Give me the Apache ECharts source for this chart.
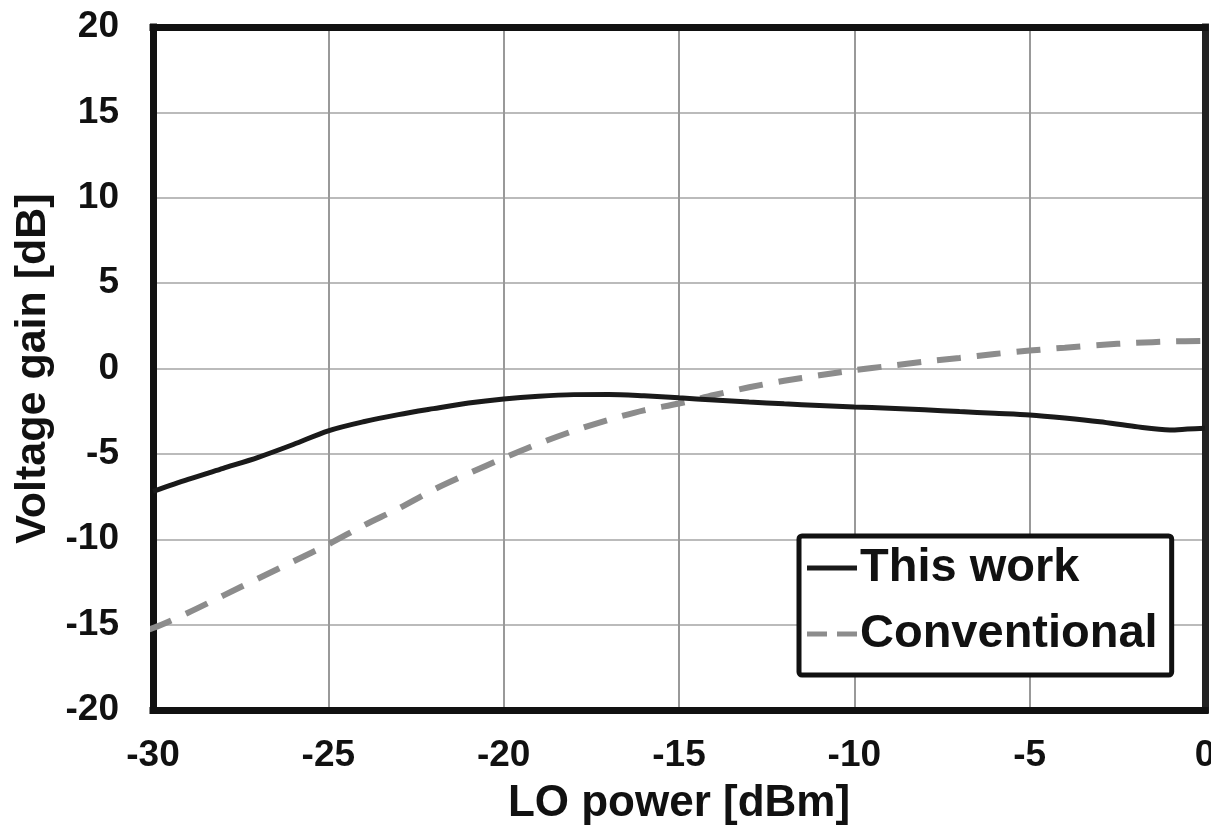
<!DOCTYPE html>
<html>
<head>
<meta charset="utf-8">
<script src="https://cdn.jsdelivr.net/npm/echarts@6/dist/echarts.min.js"></script>
<style>
  html, body { margin: 0; padding: 0; background: #fff; }
  #main { width: 1211px; height: 830px; }
</style>
</head>
<body>
<div id="main"></div>
<script>
// LO power [dBm] vs voltage gain [dB]
var powerThis = [-30, -29, -28, -27, -26, -25, -24, -23, -22, -21, -20, -19, -18, -17, -16, -15, -14, -13, -12, -11, -10, -9, -8, -7, -6, -5, -4, -3, -2, -1, -0.5, 0];
var gainThis = [-7.2, -6.5, -5.85, -5.2, -4.45, -3.65, -3.12, -2.7, -2.35, -2.02, -1.78, -1.62, -1.53, -1.52, -1.6, -1.72, -1.84, -1.96, -2.07, -2.16, -2.25, -2.33, -2.42, -2.52, -2.62, -2.72, -2.9, -3.12, -3.4, -3.6, -3.55, -3.5];

var powerConv = [-31.2, -30, -29, -28, -27, -26, -25, -24, -23, -22, -21, -20, -19, -18, -17, -16, -15, -14, -13, -12, -11, -10, -9, -8, -7, -6, -5, -4, -3, -2, -1, 0];
var gainConv = [-16.0, -15.2, -14.3, -13.3, -12.3, -11.3, -10.3, -9.2, -8.2, -7.1, -6.15, -5.25, -4.4, -3.65, -3.0, -2.45, -2.05, -1.55, -1.1, -0.72, -0.4, -0.1, 0.15, 0.4, 0.62, 0.85, 1.05, 1.22, 1.38, 1.5, 1.58, 1.62];

var seriesNames = ['This work', 'Conventional'];

function pairs(xs, ys) {
  var out = [];
  for (var i = 0; i < xs.length; i++) {
    out.push([xs[i], ys[i]]);
  }
  return out;
}

var chart = echarts.init(document.getElementById('main'));
var font = 'Liberation Sans, Arial, sans-serif';
var frame = { show: true, onZero: false, lineStyle: { color: '#111', width: 7, cap: 'square' } };

var option = {
  animation: false,
  backgroundColor: '#fff',
  grid: { left: 153, top: 27, width: 1052, height: 683, outerBoundsMode: 'none', containLabel: false },
  legend: {
    data: [
      { name: seriesNames[0], icon: 'rect' },
      { name: seriesNames[1], icon: 'path://M0,0h20v5h-20z M30,0h20v5h-20z' }
    ],
    orient: 'vertical',
    left: 799,
    top: 536,
    padding: [3, 14, 12, 8],
    itemGap: 8,
    itemWidth: 50,
    itemHeight: 5,
    borderColor: '#111',
    borderWidth: 5,
    borderRadius: 3,
    backgroundColor: '#fff',
    textStyle: { fontFamily: font, fontWeight: 'bold', fontSize: 47, color: '#111', lineHeight: 58, padding: [0, 0, 0, -2] }
  },
  xAxis: [{
    type: 'value',
    min: -30,
    max: 0,
    interval: 5,
    name: 'LO power [dBm]',
    nameLocation: 'middle',
    nameGap: 72,
    nameTextStyle: { fontFamily: font, fontWeight: 'bold', fontSize: 44, color: '#111' },
    axisLine: frame,
    axisTick: { show: false },
    axisLabel: { margin: 27, fontFamily: font, fontWeight: 'bold', fontSize: 37, color: '#111' },
    splitLine: { show: true, lineStyle: { color: '#999', width: 2 } }
  }, {
    type: 'value',
    position: 'top',
    min: -30,
    max: 0,
    axisLine: frame,
    axisTick: { show: false },
    axisLabel: { show: false },
    splitLine: { show: false }
  }],
  yAxis: [{
    type: 'value',
    min: -20,
    max: 20,
    interval: 5,
    name: 'Voltage gain [dB]',
    nameLocation: 'middle',
    nameGap: 96,
    nameTextStyle: { fontFamily: font, fontWeight: 'bold', fontSize: 43, color: '#111' },
    axisLine: frame,
    axisTick: { show: false },
    axisLabel: { margin: 34, fontFamily: font, fontWeight: 'bold', fontSize: 37, color: '#111' },
    splitLine: { show: true, lineStyle: { color: '#bbb', width: 2 } }
  }, {
    type: 'value',
    position: 'right',
    min: -20,
    max: 20,
    axisLine: { show: true, onZero: false, lineStyle: { color: '#222', width: 7, cap: 'square' } },
    axisTick: { show: false },
    axisLabel: { show: false },
    splitLine: { show: false }
  }],
  series: [{
    name: seriesNames[0],
    type: 'line',
    data: pairs(powerThis, gainThis),
    smooth: 0.3,
    symbol: 'none',
    showSymbol: false,
    lineStyle: { color: '#1a1a1a', width: 5 },
    itemStyle: { color: '#1a1a1a' },
    z: 3
  }, {
    name: seriesNames[1],
    type: 'line',
    data: pairs(powerConv, gainConv),
    smooth: 0.3,
    clip: false,
    symbol: 'none',
    showSymbol: false,
    lineStyle: { color: '#8c8c8c', width: 6, type: [24, 16] },
    itemStyle: { color: '#8c8c8c' },
    z: 2
  }]
};

chart.setOption(option);
</script>
</body>
</html>
